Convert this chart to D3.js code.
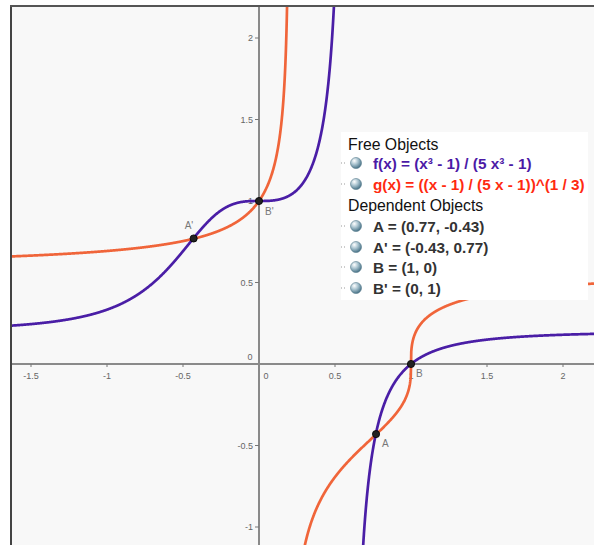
<!DOCTYPE html>
<html><head><meta charset="utf-8">
<script src="https://cdn.jsdelivr.net/npm/d3@7"></script>
<style>html,body{margin:0;padding:0;background:#fff;}svg{display:block;}</style>
</head><body>
<script>
// ---- data ----
const xTicks = [-1.5, -1, -0.5, 0, 0.5, 1, 1.5, 2];
const xTickLabels = ["-1.5", "-1", "-0.5", "0", "0.5", "1", "1.5", "2"];
const yTicks = [-1, -0.5, 0, 0.5, 1, 1.5, 2];
const yTickLabels = ["-1", "-0.5", "0", "0.5", "1", "1.5", "2"];
const pointNames = ["A", "A'", "B", "B'"];
const pointX = [0.77, -0.43, 1, 0];
const pointY = [-0.43, 0.77, 0, 1];
const legendFree = ["f(x) = (x³ - 1) / (5 x³ - 1)", "g(x) = ((x - 1) / (5 x - 1))^(1 / 3)"];
const legendDependent = ["A = (0.77, -0.43)", "A' = (-0.43, 0.77)", "B = (1, 0)", "B' = (0, 1)"];
// functions shown in the legend
const fFun = v => (v*v*v - 1) / (5*v*v*v - 1);
const gFun = v => Math.cbrt((v - 1) / (5*v - 1));
const fAsym = Math.cbrt(0.2), gAsym = 0.2;

const W = 594, H = 545;
const pL = 11, pT = 6, pR = 594, pB = 545;
const x = d3.scaleLinear().domain([0, 1]).range([259, 411]);
const y = d3.scaleLinear().domain([0, 1]).range([364, 201]);

const svg = d3.select("body").append("svg").attr("width", W).attr("height", H);
const defs = svg.append("defs");
defs.append("clipPath").attr("id", "clip").append("rect")
  .attr("x", pL).attr("y", pT).attr("width", pR-pL).attr("height", pB-pT);
const grad = defs.append("radialGradient").attr("id", "sph").attr("cx", "35%").attr("cy", "30%").attr("r", "75%");
grad.append("stop").attr("offset", "0%").attr("stop-color", "#ffffff");
grad.append("stop").attr("offset", "45%").attr("stop-color", "#a9c3cf");
grad.append("stop").attr("offset", "100%").attr("stop-color", "#3f6b80");

svg.append("rect").attr("x", pL).attr("y", pT).attr("width", pR-pL).attr("height", pB-pT).attr("fill", "#f8f8f8");

const g = svg.append("g").attr("clip-path", "url(#clip)");
// axes
g.append("line").attr("x1", pL).attr("x2", pR).attr("y1", y(0)).attr("y2", y(0)).attr("stroke", "#8a8a8a").attr("stroke-width", 2);
g.append("line").attr("x1", x(0)).attr("x2", x(0)).attr("y1", pT).attr("y2", pB).attr("stroke", "#8a8a8a").attr("stroke-width", 2);

const tickFont = "Liberation Sans, Arial, sans-serif";
xTicks.forEach((t, i) => {
  if (t !== 0) g.append("line").attr("x1", x(t)).attr("x2", x(t)).attr("y1", y(0)).attr("y2", y(0)+3).attr("stroke", "#777").attr("stroke-width", 1);
  g.append("text").attr("x", t === 0 ? x(0)+7 : x(t)).attr("y", y(0)+15).attr("text-anchor", "middle")
    .attr("font-family", tickFont).attr("font-size", 9).attr("fill", "#666").text(xTickLabels[i]);
});
yTicks.forEach((t, i) => {
  if (t === 0) {
    g.append("text").attr("x", x(0)-9).attr("y", y(0)-4).attr("text-anchor", "middle")
      .attr("font-family", tickFont).attr("font-size", 9).attr("fill", "#666").text(yTickLabels[i]);
    return;
  }
  g.append("line").attr("x1", x(0)-4).attr("x2", x(0)).attr("y1", y(t)).attr("y2", y(t)).attr("stroke", "#777").attr("stroke-width", 1);
  g.append("text").attr("x", x(0)-6).attr("y", y(t)+3).attr("text-anchor", "end")
    .attr("font-family", tickFont).attr("font-size", 9).attr("fill", "#666").text(yTickLabels[i]);
});

// curves
const xmin = x.invert(pL), xmax = x.invert(pR);
function branches(fn, asym) {
  const segs = [[xmin, asym - 1e-4], [asym + 1e-4, xmax]];
  return segs.map(([a, b]) => {
    const pts = [];
    const n = 1200;
    for (let i = 0; i <= n; i++) {
      const xv = a + (b - a) * i / n;
      pts.push([xv, Math.max(-20, Math.min(20, fn(xv)))]);
    }
    for (let k = 1; k <= 200; k++) {
      const d = 0.02 * Math.pow(k/200, 3);
      const xv = b <= asym ? asym - d : asym + d;
      if (xv > a && xv < b) pts.push([xv, Math.max(-20, Math.min(20, fn(xv)))]);
    }
    return pts.sort((p, q) => p[0] - q[0]);
  });
}
const line = d3.line().x(d => x(d[0])).y(d => y(d[1]));
branches(gFun, gAsym).forEach(b => g.append("path").attr("d", line(b)).attr("fill", "none").attr("stroke", "#f0653a").attr("stroke-width", 2.7));
branches(fFun, fAsym).forEach(b => g.append("path").attr("d", line(b)).attr("fill", "none").attr("stroke", "#4a1ea6").attr("stroke-width", 2.7));

// points
const labelOff = {"A": [6, 13], "A'": [-9, -9], "B": [5, 13], "B'": [6, 14]};
pointNames.forEach((nm, i) => {
  g.append("circle").attr("cx", x(pointX[i])).attr("cy", y(pointY[i])).attr("r", 3.6).attr("fill", "#222").attr("stroke", "#000").attr("stroke-width", 0.8);
  g.append("text").attr("x", x(pointX[i]) + labelOff[nm][0]).attr("y", y(pointY[i]) + labelOff[nm][1])
    .attr("font-family", tickFont).attr("font-size", 10).attr("fill", "#777").text(nm);
});

// frame
svg.append("line").attr("x1", pL).attr("x2", pL).attr("y1", pT-1).attr("y2", pB).attr("stroke", "#444").attr("stroke-width", 2);
svg.append("line").attr("x1", pL-1).attr("x2", pR).attr("y1", pT).attr("y2", pT).attr("stroke", "#555").attr("stroke-width", 2);

// legend
const lg = svg.append("g");
lg.append("rect").attr("x", 341).attr("y", 132).attr("width", 247).attr("height", 168).attr("fill", "#ffffff");
const lf = "Liberation Sans, Arial, sans-serif";
const rowY = [163, 184, 226, 247, 267, 288];
lg.append("text").attr("x", 348).attr("y", 150).attr("font-family", lf).attr("font-size", 15.8).attr("fill", "#111").text("Free Objects");
lg.append("text").attr("x", 348).attr("y", 211).attr("font-family", lf).attr("font-size", 15.8).attr("fill", "#111").text("Dependent Objects");
const items = legendFree.concat(legendDependent);
const colors = ["#4b1aa6", "#ff2a10", "#333", "#333", "#333", "#333"];
items.forEach((t, i) => {
  const cy = rowY[i];
  lg.append("line").attr("x1", 341).attr("x2", 347).attr("y1", cy).attr("y2", cy).attr("stroke", "#999").attr("stroke-dasharray", "1,2");
  lg.append("circle").attr("cx", 356).attr("cy", cy).attr("r", 5.5).attr("fill", "url(#sph)").attr("stroke", "#557a8c").attr("stroke-width", 0.6);
  lg.append("text").attr("x", 373).attr("y", cy + 5.5).attr("font-family", lf).attr("font-weight", "bold")
    .attr("font-size", 15.3).attr("fill", colors[i]).text(t);
});
</script>
</body></html>
